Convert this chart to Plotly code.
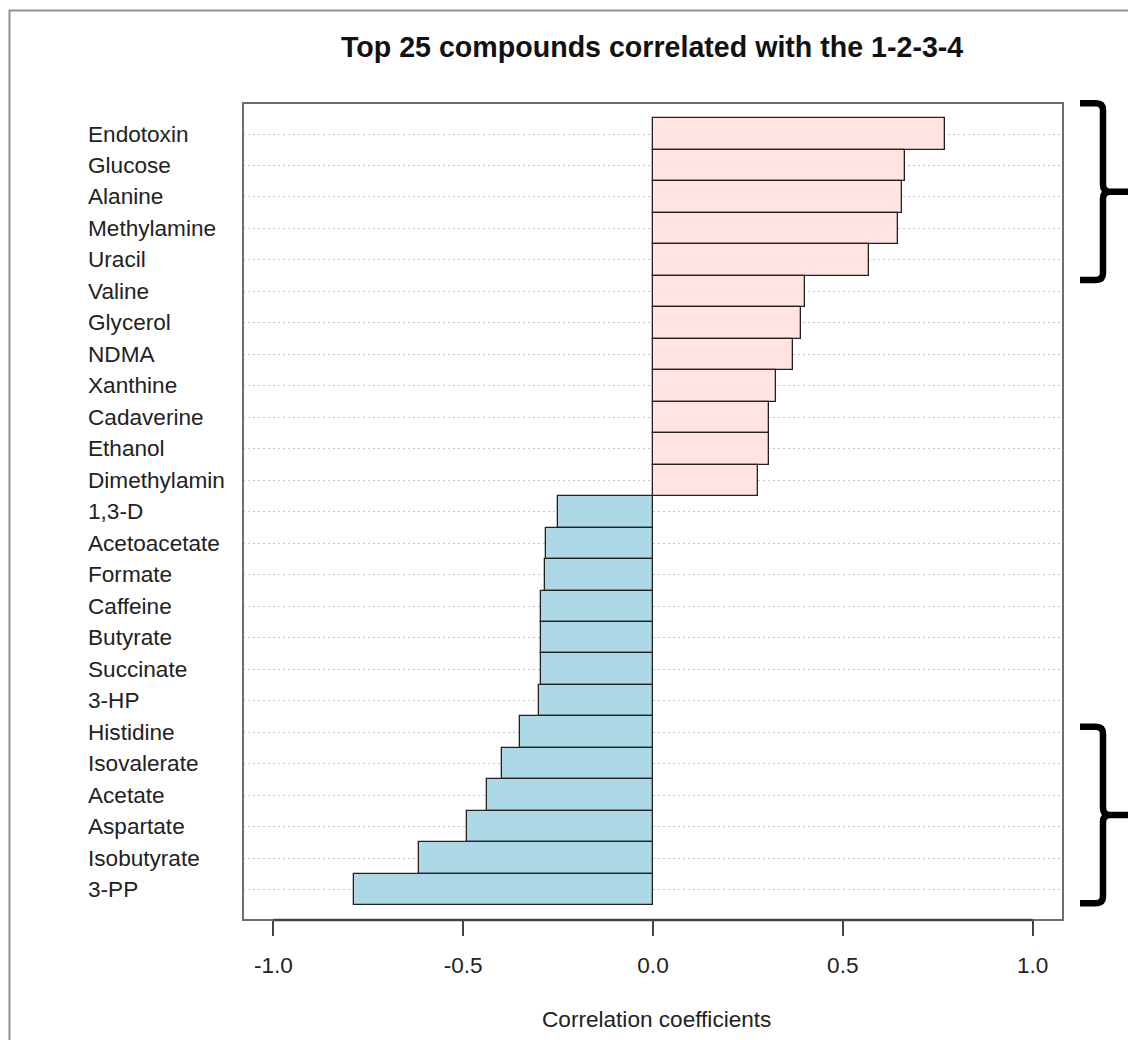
import plotly.graph_objects as go

# ---- data ----
compounds = ["Endotoxin", "Glucose", "Alanine", "Methylamine", "Uracil", "Valine",
             "Glycerol", "NDMA", "Xanthine", "Cadaverine", "Ethanol", "Dimethylamin",
             "1,3-D", "Acetoacetate", "Formate", "Caffeine", "Butyrate", "Succinate",
             "3-HP", "Histidine", "Isovalerate", "Acetate", "Aspartate", "Isobutyrate", "3-PP"]
correlations = [0.770, 0.665, 0.656, 0.645, 0.568, 0.401, 0.390, 0.370, 0.325, 0.305,
                0.305, 0.276, -0.250, -0.281, -0.285, -0.294, -0.296, -0.296, -0.301,
                -0.351, -0.397, -0.438, -0.490, -0.616, -0.788]
x_tickvals = [-1.0, -0.5, 0.0, 0.5, 1.0]
x_ticktext = ["-1.0", "-0.5", "0.0", "0.5", "1.0"]
title_text = "Top 25 compounds correlated with the 1-2-3-4"
xlab_text = "Correlation coefficients"

# ---- layout geometry (pixels) ----
W, H = 1128, 1040
ML, MR, MT, MB = 243, 65, 103, 120
PW, PH = W - ML - MR, H - MT - MB
FONT = "Liberation Sans, Arial, Helvetica, sans-serif"
FS = 22.6


def px(x):
    return (x - ML) / PW


def py(y):
    return (H - MB - y) / PH


pos_col, neg_col = "#FFE4E1", "#ADD8E6"
colors = [pos_col if v > 0 else neg_col for v in correlations]

fig = go.Figure()
fig.add_trace(go.Bar(
    x=correlations, y=compounds, orientation="h",
    marker=dict(color=colors, line=dict(color="#222222", width=1.3)),
    width=1, showlegend=False, hoverinfo="x+y",
))

n = len(compounds)
shapes = []
# plot frame
shapes.append(dict(type="rect", xref="paper", yref="paper", x0=0, y0=0, x1=1, y1=1,
                   line=dict(color="#6e6e6e", width=2), layer="above"))
# axis line from -1 to 1
shapes.append(dict(type="line", xref="x", yref="paper", x0=-1, x1=1, y0=0, y1=0,
                   line=dict(color="#444444", width=2.5), layer="above"))
# outer border of the image
shapes.append(dict(type="rect", xref="paper", yref="paper",
                   x0=px(9.5), y0=py(10.5), x1=px(W + 20), y1=py(H + 20),
                   line=dict(color="#8f8f8f", width=2)))


def brace(ytop, ybot, ymid):
    xl, xv, xr, r = 1080, 1103, W + 10, 7
    pts = [
        ("M", xl, ytop), ("L", xv - r, ytop), ("Q", xv, ytop, xv, ytop + r),
        ("L", xv, ymid - r), ("Q", xv, ymid, xv + r, ymid), ("L", xr, ymid),
        ("M", xr, ymid), ("L", xv + r, ymid), ("Q", xv, ymid, xv, ymid + r),
        ("L", xv, ybot - r), ("Q", xv, ybot, xv - r, ybot), ("L", xl, ybot),
    ]
    s = ""
    for p in pts:
        if p[0] == "Q":
            s += f"Q {px(p[1]):.5f},{py(p[2]):.5f} {px(p[3]):.5f},{py(p[4]):.5f} "
        else:
            s += f"{p[0]} {px(p[1]):.5f},{py(p[2]):.5f} "
    return dict(type="path", xref="paper", yref="paper", path=s.strip(),
                line=dict(color="#000000", width=6.5))


shapes.append(brace(103.3, 280.0, 191.7))
shapes.append(brace(726.7, 903.3, 815.0))

annotations = []
for name in compounds:
    annotations.append(dict(x=px(86), xref="paper", y=name, yref="y", text=name,
                            showarrow=False, xanchor="left", yanchor="middle",
                            font=dict(family=FONT, size=FS, color="#222222")))
annotations.append(dict(x=px(652), y=py(47), xref="paper", yref="paper", text=f"<b>{title_text}</b>",
                        showarrow=False, xanchor="center", yanchor="middle",
                        font=dict(family=FONT, size=28.6, color="#111111")))
annotations.append(dict(x=px(656), y=py(1019), xref="paper", yref="paper", text=xlab_text,
                        showarrow=False, xanchor="center", yanchor="middle",
                        font=dict(family=FONT, size=FS, color="#222222")))

fig.update_layout(
    width=W, height=H,
    margin=dict(l=ML, r=MR, t=MT, b=MB, pad=0),
    paper_bgcolor="white", plot_bgcolor="white",
    bargap=0,
    shapes=shapes, annotations=annotations,
    font=dict(family=FONT, size=FS, color="#222222"),
    xaxis=dict(range=[-1.08, 1.08], tickvals=x_tickvals, ticktext=x_ticktext,
               ticks="outside", ticklen=15, tickwidth=2, tickcolor="#444444",
               ticklabelstandoff=10,
               showgrid=False, zeroline=False, showline=False,
               tickfont=dict(family=FONT, size=FS, color="#222222")),
    yaxis=dict(type="category", categoryorder="array", categoryarray=list(reversed(compounds)),
               range=[-0.966, n - 1 + 0.985], showticklabels=False, ticks="",
               showgrid=True, gridcolor="#c4c4c4", griddash="2px,3px", gridwidth=1,
               zeroline=False, showline=False),
)

fig.write_html("out.html", config={"displayModeBar": False},
               post_script="document.body.style.margin='0';document.body.style.overflow='hidden';")
